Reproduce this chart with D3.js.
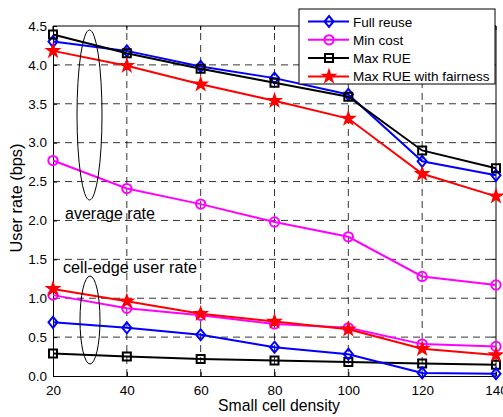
<!DOCTYPE html>
<html>
<head>
<meta charset="utf-8">
<title>User rate vs small cell density</title>
<script src="https://d3js.org/d3.v7.min.js"></script>
<style>
  body { margin: 0; background: #fff; font-family: "Liberation Sans", Arial, sans-serif; }
</style>
</head>
<body>
<svg id="chart" width="503" height="417"></svg>
<script>
// small cell density values on the x axis
var density = [20, 40, 60, 80, 100, 120, 140];
var xTicks = [20, 40, 60, 80, 100, 120, 140];
var yTicks = [0, 0.5, 1, 1.5, 2, 2.5, 3, 3.5, 4, 4.5];

// average rate
var fullReuseAvg = [4.30, 4.18, 3.98, 3.83, 3.62, 2.76, 2.58];
var minCostAvg   = [2.77, 2.41, 2.21, 1.98, 1.79, 1.28, 1.17];
var maxRueAvg    = [4.39, 4.15, 3.95, 3.77, 3.59, 2.90, 2.67];
var fairAvg      = [4.18, 3.99, 3.75, 3.54, 3.31, 2.60, 2.31];

// cell-edge user rate
var fullReuseEdge = [0.69, 0.62, 0.53, 0.37, 0.28, 0.04, 0.03];
var minCostEdge   = [1.04, 0.87, 0.78, 0.67, 0.62, 0.41, 0.38];
var maxRueEdge    = [0.29, 0.25, 0.22, 0.20, 0.18, 0.16, 0.145];
var fairEdge      = [1.12, 0.96, 0.80, 0.70, 0.60, 0.35, 0.27];

var seriesNames = ["Full reuse", "Min cost", "Max RUE", "Max RUE with fairness"];
var seriesColors = ["#0000ff", "#ff00ff", "#000000", "#ff0000"];
var seriesMarkers = ["diamond", "circle", "square", "star"];

var svg = d3.select("#chart");
var margin = {top: 26, right: 7, bottom: 41, left: 53};
var W = 503, H = 417;

var x = d3.scaleLinear().domain([20, 140]).range([margin.left, W - margin.right]);
var y = d3.scaleLinear().domain([0, 4.5]).range([H - margin.bottom, margin.top]);

var x0 = x(20), x1 = x(140), y0 = y(0), y1 = y(4.5);

// dashed grid
svg.append("g").selectAll("line.gx")
  .data(xTicks.slice(1, -1)).enter().append("line")
  .attr("x1", d => x(d)).attr("x2", d => x(d))
  .attr("y1", y0).attr("y2", y1)
  .attr("stroke", "#000").attr("stroke-width", 0.8).attr("stroke-dasharray", "7,5");
svg.append("g").selectAll("line.gy")
  .data(yTicks.slice(1, -1)).enter().append("line")
  .attr("x1", x0).attr("x2", x1)
  .attr("y1", d => y(d)).attr("y2", d => y(d))
  .attr("stroke", "#000").attr("stroke-width", 0.8).attr("stroke-dasharray", "7,5");

// axes, ticks inward like matlab
var xAxis = d3.axisBottom(x).tickValues(xTicks).tickSizeInner(-4).tickSizeOuter(0).tickPadding(8);
var yAxis = d3.axisLeft(y).tickValues(yTicks).tickSizeInner(-4).tickSizeOuter(0).tickPadding(6);

var gx = svg.append("g").attr("transform", "translate(0," + y0 + ")").call(xAxis);
var gy = svg.append("g").attr("transform", "translate(" + x0 + ",0)").call(yAxis);
[gx, gy].forEach(function(g) {
  g.selectAll("text").style("font-family", "Liberation Sans, Arial, sans-serif")
    .style("font-size", "13.5px").attr("fill", "#000");
  g.selectAll("line").attr("stroke", "#000");
  g.select(".domain").attr("stroke", "#000");
});
gx.selectAll("text").attr("dy", "0.85em");

// top + right frame
svg.append("line").attr("x1", x0).attr("x2", x1).attr("y1", y1).attr("y2", y1).attr("stroke", "#000");
svg.append("line").attr("x1", x1).attr("x2", x1).attr("y1", y1).attr("y2", y0).attr("stroke", "#000");
svg.append("g").selectAll("line").data(xTicks).enter().append("line")
  .attr("x1", d => x(d)).attr("x2", d => x(d)).attr("y1", y1).attr("y2", y1 + 4).attr("stroke", "#000");
svg.append("g").selectAll("line").data(yTicks).enter().append("line")
  .attr("x1", x1).attr("x2", x1 - 4).attr("y1", d => y(d)).attr("y2", d => y(d)).attr("stroke", "#000");

// marker paths
function markerPath(type) {
  if (type === "diamond") return "M0,-5.5L4.5,0L0,5.5L-4.5,0Z";
  if (type === "square") return "M-4,-4H4V4H-4Z";
  if (type === "circle") return d3.symbol().type(d3.symbolCircle).size(68)();
  return d3.symbol().type(d3.symbolStar).size(48)();
}

var line = d3.line().x((d, i) => x(density[i])).y(d => y(d));

function drawSeries(values, k) {
  var g = svg.append("g");
  g.append("path").datum(values).attr("d", line)
    .attr("fill", "none").attr("stroke", seriesColors[k]).attr("stroke-width", 2);
  g.selectAll("path.m").data(values).enter().append("path")
    .attr("class", "m")
    .attr("d", markerPath(seriesMarkers[k]))
    .attr("transform", (d, i) => "translate(" + x(density[i]) + "," + y(d) + ")")
    .attr("fill", seriesMarkers[k] === "star" ? seriesColors[k] : "none")
    .attr("stroke", seriesColors[k]).attr("stroke-width", seriesMarkers[k] === "star" ? 1.5 : 2);
}

drawSeries(minCostAvg, 1);
drawSeries(fullReuseAvg, 0);
drawSeries(maxRueAvg, 2);
drawSeries(fairAvg, 3);
drawSeries(maxRueEdge, 2);
drawSeries(fullReuseEdge, 0);
drawSeries(minCostEdge, 1);
drawSeries(fairEdge, 3);

// fit a text to a given width by adjusting its font size
function fitText(sel, width) {
  var fs = parseFloat(sel.style("font-size"));
  var len = sel.node().getComputedTextLength();
  sel.style("font-size", (fs * width / len).toFixed(2) + "px");
}

// annotation ellipses and labels
svg.append("ellipse").attr("cx", 89.5).attr("cy", 115).attr("rx", 12.5).attr("ry", 85)
  .attr("fill", "none").attr("stroke", "#000").attr("stroke-width", 1);
svg.append("ellipse").attr("cx", 90).attr("cy", 320).attr("rx", 10).attr("ry", 44)
  .attr("fill", "none").attr("stroke", "#000").attr("stroke-width", 1);
var t1 = svg.append("text").attr("x", 65).attr("y", 219).text("average rate")
  .style("font-size", "15px").attr("fill", "#000");
fitText(t1, 90);
var t2 = svg.append("text").attr("x", 63).attr("y", 273).text("cell-edge user rate")
  .style("font-size", "15px").attr("fill", "#000");
fitText(t2, 134);

// axis titles
var tx = svg.append("text").attr("x", 279).attr("y", 411).attr("text-anchor", "middle")
  .text("Small cell density").style("font-size", "15px");
fitText(tx, 122);
var ty = svg.append("text").attr("transform", "translate(22,198)rotate(-90)")
  .attr("text-anchor", "middle").text("User rate (bps)").style("font-size", "15px");
fitText(ty, 109);

// legend
var lg = svg.append("g");
lg.append("rect").attr("x", 299).attr("y", 9).attr("width", 196).attr("height", 75)
  .attr("fill", "#fff").attr("stroke", "#000").attr("stroke-width", 1);
seriesNames.forEach(function(name, k) {
  var ly = 21.5 + k * 18.3;
  lg.append("line").attr("x1", 308).attr("x2", 349).attr("y1", ly).attr("y2", ly)
    .attr("stroke", seriesColors[k]).attr("stroke-width", 2);
  lg.append("path").attr("d", markerPath(seriesMarkers[k]))
    .attr("transform", "translate(329," + ly + ")")
    .attr("fill", seriesMarkers[k] === "star" ? seriesColors[k] : "none")
    .attr("stroke", seriesColors[k]).attr("stroke-width", seriesMarkers[k] === "star" ? 1.5 : 2);
  lg.append("text").attr("x", 353).attr("y", ly + 5).text(name)
    .style("font-size", "13.5px").attr("fill", "#000");
});
</script>
</body>
</html>
